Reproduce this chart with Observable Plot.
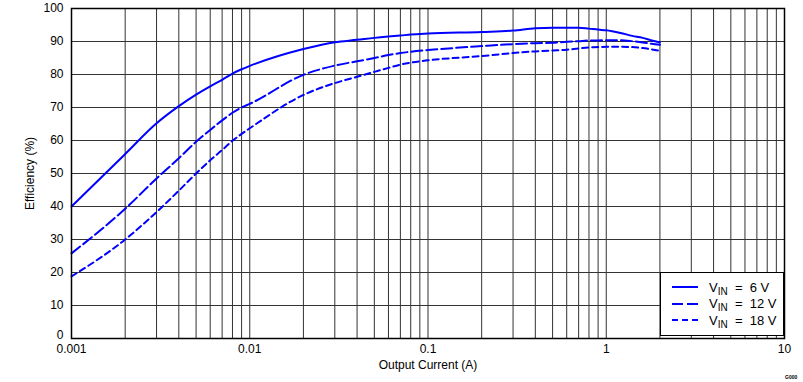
<!DOCTYPE html>
<html>
<head>
<meta charset="utf-8">
<script src="https://cdn.jsdelivr.net/npm/d3@7"></script>
<script src="https://cdn.jsdelivr.net/npm/@observablehq/plot@0.6"></script>
<style>
  html, body { margin: 0; padding: 0; background: #fff; }
  #wrap { position: relative; width: 803px; height: 382px; font-family: "Liberation Sans", Arial, sans-serif; }
  #legend { position: absolute; left: 660px; top: 272px; width: 122px; height: 62px; border: 1.5px solid #000; background: #fff; font-size: 13px; color: #000; }
  .row { position: absolute; left: 0; height: 16px; display: flex; align-items: center; }
  .row svg { margin-left: 11px; margin-right: 11px; }
  sub { font-size: 10px; vertical-align: -3px; line-height: 0; }
  #code { position: absolute; left: 785px; top: 374px; font-size: 5px; font-weight: bold; color: #000; }
</style>
</head>
<body>
<div id="wrap"></div>
<script>
// Output current (A)
const current = [0.001, 0.002, 0.003, 0.004, 0.005, 0.006, 0.007, 0.008, 0.009, 0.01,
  0.02, 0.03, 0.04, 0.05, 0.06, 0.07, 0.08, 0.1, 0.2, 0.3, 0.4, 0.5, 0.6, 0.7, 0.8, 0.9,
  1, 1.2, 1.4, 1.6, 1.8, 2];
// Efficiency (%)
const eff6V = [40, 55.9, 65.2, 70.4, 73.9, 76.4, 78.4, 80.3, 81.6, 82.6,
  87.7, 89.8, 90.5, 91.1, 91.5, 91.8, 92.1, 92.4, 92.9, 93.3, 94, 94.2, 94.2, 94.2, 93.9, 93.6,
  93.4, 92.6, 91.7, 91.1, 90.3, 89.7];
const eff12V = [25.8, 39.3, 48.5, 54.6, 59.6, 63.2, 66.1, 68.4, 70, 71.1,
  79.9, 82.7, 84, 85, 85.9, 86.5, 86.9, 87.4, 88.6, 89.2, 89.5, 89.6, 89.9, 90.1, 90.3, 90.3,
  90.4, 90.4, 90.1, 89.7, 89.3, 89];
const eff18V = [18.8, 30, 38.3, 44.8, 50, 54, 57.1, 59.9, 62, 63.7,
  73.8, 77.4, 79.3, 80.8, 82, 83, 83.6, 84.3, 85.6, 86.5, 87, 87.3, 87.5, 87.9, 88.2, 88.3,
  88.4, 88.4, 88.3, 88, 87.6, 87.2];
const seriesNames = ["6 V", "12 V", "18 V"];
const seriesDash = ["none", "11,4", "6,4"];
const xTicks = [0.001, 0.01, 0.1, 1, 10];
const xTickLabels = ["0.001", "0.01", "0.1", "1", "10"];
const yTicks = [0, 10, 20, 30, 40, 50, 60, 70, 80, 90, 100];

const seriesValues = [eff6V, eff12V, eff18V];
const rows = seriesNames.flatMap((name, s) =>
  current.map((c, i) => ({series: name, x: c, y: seriesValues[s][i]})));

// minor log grid lines
const gridX = [];
for (const decade of [0.001, 0.01, 0.1, 1]) for (let k = 1; k <= 9; k++) gridX.push(+(decade * k).toPrecision(3));
gridX.push(10);

const labelFor = d => {
  const j = xTicks.findIndex(t => Math.abs(Math.log10(t) - Math.log10(d)) < 1e-6);
  return j >= 0 ? xTickLabels[j] : "";
};

const chart = Plot.plot({
  width: 803,
  height: 382,
  marginLeft: 71,
  marginRight: 19,
  marginTop: 8,
  marginBottom: 44,
  style: {fontFamily: "'Liberation Sans', Arial, sans-serif", fontSize: "12px", color: "#000", background: "#fff"},
  x: {type: "log", domain: [0.001, 10]},
  y: {domain: [0, 100]},
  marks: [
    Plot.ruleX(gridX, {stroke: "#333", strokeWidth: 1, strokeOpacity: 1}),
    Plot.ruleY(yTicks, {stroke: "#333", strokeWidth: 1, strokeOpacity: 1}),
    ...seriesNames.map((name, s) =>
      Plot.line(rows.filter(d => d.series === name), {
        x: "x", y: "y", stroke: "#0000ff", strokeWidth: 2,
        strokeDasharray: seriesDash[s], curve: "monotone-x"
      })),
    Plot.frame({stroke: "#000", strokeWidth: 1.5}),
    Plot.text(xTicks, {x: d => d, frameAnchor: "bottom", dy: 14, text: labelFor,
      fontSize: 12, fill: "#000"}),
    Plot.axisX({ticks: [], tickSize: 0,
      label: "Output Current (A)", labelAnchor: "center", labelArrow: "none", labelOffset: 30}),
    Plot.axisY({ticks: yTicks.filter(t => t > 0), tickSize: 0, tickPadding: 8,
      label: "Efficiency (%)", labelAnchor: "center", labelArrow: "none", labelOffset: 46}),
    Plot.axisY({ticks: yTicks.filter(t => t === 0), tickSize: 0, tickPadding: 8, dy: -3, label: null})
  ]
});

const wrap = document.getElementById("wrap");
wrap.appendChild(chart);

// legend
const legend = document.createElement("div");
legend.id = "legend";
seriesNames.forEach((name, s) => {
  const row = document.createElement("div");
  row.className = "row";
  row.style.top = (6 + s * 16.5) + "px";
  row.innerHTML = `<svg width="26" height="6"><line x1="0" y1="3" x2="26" y2="3" stroke="#0000ff" stroke-width="2" stroke-dasharray="${seriesDash[s]}"/></svg><span>V<sub>IN</sub>&nbsp; = &nbsp;${name}</span>`;
  legend.appendChild(row);
});
wrap.appendChild(legend);

const code = document.createElement("div");
code.id = "code";
code.textContent = "G000";
wrap.appendChild(code);
</script>
</body>
</html>
